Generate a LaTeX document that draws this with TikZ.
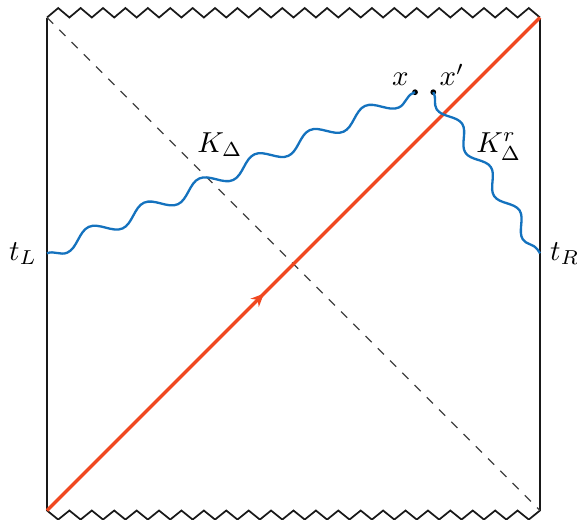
\documentclass[tikz,border=0pt]{standalone}
\usepackage{amsmath}
\usetikzlibrary{arrows.meta,decorations.pathmorphing,decorations.markings}
\definecolor{geored}{RGB}{240,72,32}
\definecolor{propblue}{RGB}{20,114,190}
\tikzset{
  bdry/.style  = {semithick, black!90},
  sing/.style  = {semithick, black!90, line join=miter},
  hor/.style   = {thin, dashed, black!75},
  geo/.style   = {very thick, geored, postaction={decorate},
                  decoration={markings, mark=at position 0.44 with
                  {\arrow{Stealth[length=4.5pt,width=4pt]}}}},
  wave/.style  = {thick, propblue, decorate,
                  decoration={snake, mirror, amplitude=2.6pt, segment length=20.88pt}},
  waver/.style = {thick, propblue, decorate,
                  decoration={snake, mirror, amplitude=2.3pt, segment length=18pt}},
  pt/.style    = {circle, fill=black, inner sep=0pt, minimum size=2pt},
  lbl/.style   = {inner sep=2pt},
}
\def\tw{0.272727}

\begin{document}
\begin{tikzpicture}
\useasboundingbox (-0.572,-0.115) rectangle (6.45,6.213);

% --- corners and boundary points ---
\coordinate (bl) at (0,0);
\coordinate (br) at (6,0);
\coordinate (tl) at (0,6);
\coordinate (tr) at (6,6);
\coordinate (tL) at (0,3.13);
\coordinate (tR) at (6,3.13);

% --- diagram ---
\draw[bdry] (bl) -- (tl);
\draw[bdry] (br) -- (tr);
\draw[sing] (tl) \foreach \i in {1,...,22} { -- ++(\tw/2,0.115) -- ++(\tw/2,-0.115) };
\draw[sing] (bl) \foreach \i in {1,...,22} { -- ++(\tw/2,-0.11) -- ++(\tw/2,0.11) };
\draw[hor] (tl) -- (br);
\draw[geo] (bl) -- (tr);

% --- bulk points ---
\node[pt] (x)  at (4.479,5.091) {};
\node[pt] (xp) at (4.701,5.091) {};

% --- propagators ---
\draw[wave]  (tL) -- (x.center);
\draw[waver] (xp.center) -- (tR);

% --- labels ---
\node[left]  (tLlbl) at (tL) {$t_L$};
\node[right] (tRlbl) at (tR) {$t_R$};
\node[lbl, above left]  (xlbl)  at (x)  {$x$};
\node[lbl, above right] (xplbl) at (xp) {$x'$};
\node (Kl) at (2.105,4.454) {$K_\Delta$};
\node (Kr) at (5.50,4.433) {$K^r_\Delta$};
\end{tikzpicture}
\end{document}
